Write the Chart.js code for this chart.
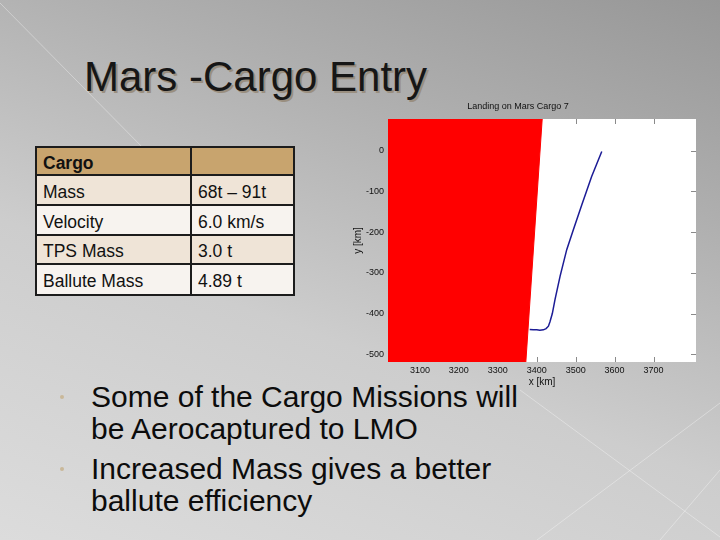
<!DOCTYPE html>
<html>
<head>
<meta charset="utf-8">
<script src="https://cdn.jsdelivr.net/npm/chart.js@4"></script>
<style>
  html, body { margin:0; padding:0; }
  body { width:720px; height:540px; overflow:hidden; position:relative;
    background: linear-gradient(200deg, #979797 0%, #afafaf 28%, #cdcdcd 60%, #dcdcdc 100%);
    font-family: "Liberation Sans", Arial, sans-serif; }
  #deco { position:absolute; left:0; top:0; }
  #title { position:absolute; left:84px; top:56px; font-size:42px; line-height:42px; color:#161616;
    text-shadow: 2px 2px 0 #9a8f80; white-space:nowrap; }
  #tbl { position:absolute; left:35px; top:146px; width:256px; border:2px solid #1c1c1c; }
  .row { position:relative; border-bottom:2px solid #1c1c1c; display:flex; }
  .row:last-child { border-bottom:none; }
  .c1 { width:155px; border-right:2px solid #1c1c1c; padding-left:6px; box-sizing:border-box; }
  .c2 { flex:1; padding-left:6px; }
  .row div { font-size:17.5px; color:#111; }
  #bul { position:absolute; left:91px; top:381px; width:460px; font-size:30px; line-height:31.5px; color:#0c0c0c; }
  #bul p { margin:0 0 9px 0; position:relative; }
  #bul p::before { content:""; position:absolute; left:-31px; top:14px; width:4px; height:4px; border-radius:50%; background:#c9b899; }
  #wrap { position:absolute; left:340px; top:95px; width:370px; height:300px; }
</style>
</head>
<body>
<svg id="deco" width="720" height="540">
  <g stroke="#ffffff" stroke-opacity="0.35" stroke-width="1" fill="none">
    <line x1="0" y1="3" x2="150" y2="155"/>
    <line x1="520" y1="390" x2="720" y2="537"/>
    <line x1="720" y1="403" x2="537" y2="540"/>
    <line x1="720" y1="470" x2="660" y2="540"/>
  </g>
</svg>
<div id="title">Mars -Cargo Entry</div>
<div id="tbl"></div>
<div id="bul"></div>
<div id="wrap"><canvas id="c" width="370" height="300"></canvas></div>
<script>
// ---- slide content ----
const tableRows = [["Cargo", ""], ["Mass", "68t \u2013 91t"], ["Velocity", "6.0 km/s"], ["TPS Mass", "3.0 t"], ["Ballute Mass", "4.89 t"]];
const bullets = ["Some of the Cargo Missions will be Aerocaptured to LMO", "Increased Mass gives a better ballute efficiency"];

// ---- chart data ----
const chartTitle = "Landing on Mars Cargo 7";
const xTicks = [3100, 3200, 3300, 3400, 3500, 3600, 3700];
const yTicks = [0, -100, -200, -300, -400, -500];
const xRange = [3018, 3809];
const yRange = [-519, 78];
// planet surface region (red)
const surfaceX = [3018, 3414, 3372, 3018];
const surfaceY = [78, 78, -519, -519];
// trajectory (blue)
const trajX = [3567, 3541, 3516, 3494, 3477, 3460, 3447, 3440, 3434, 3430, 3424, 3417, 3408, 3400, 3391, 3382];
const trajY = [-2, -63, -132, -194, -243, -308, -365, -400, -420, -431, -437, -440, -441, -440, -440, -439];

// build table
const rowHeights = [28, 30, 30, 29, 29];
const tbl = document.getElementById('tbl');
const rowBg = ["#c8a46e", "#efe4d7", "#f7f3ef", "#efe4d7", "#f7f3ef"];
tableRows.forEach((r, i) => {
  const row = document.createElement('div');
  row.className = 'row';
  row.style.background = rowBg[i];
  const h = rowHeights[i] - (i < tableRows.length - 1 ? 2 : 0);
  row.style.height = h + 'px';
  [r[0], r[1]].forEach((t, j) => {
    const c = document.createElement('div');
    c.className = j === 0 ? 'c1' : 'c2';
    c.textContent = t;
    c.style.paddingTop = '4px';
    c.style.lineHeight = (h - 4) + 'px';
    if (i === 0) c.style.fontWeight = 'bold';
    row.appendChild(c);
  });
  tbl.appendChild(row);
});
const bul = document.getElementById('bul');
bullets.forEach(b => { const p = document.createElement('p'); p.textContent = b; bul.appendChild(p); });

const toPts = (xs, ys) => xs.map((x, i) => ({x: x, y: ys[i]}));

const innerTicks = {
  id: 'innerTicks',
  beforeDatasetsDraw(chart) {
    const {ctx, chartArea: a, scales: {x, y}} = chart;
    ctx.save();
    ctx.strokeStyle = '#8a8a8a';
    ctx.lineWidth = 1;
    ctx.beginPath();
    xTicks.forEach(v => { const px = Math.round(x.getPixelForValue(v)) + 0.5;
      ctx.moveTo(px, a.top); ctx.lineTo(px, a.top + 5);
      ctx.moveTo(px, a.bottom); ctx.lineTo(px, a.bottom - 5); });
    yTicks.forEach(v => { const py = Math.round(y.getPixelForValue(v)) + 0.5;
      ctx.moveTo(a.right, py); ctx.lineTo(a.right - 5, py);
      ctx.moveTo(a.left, py); ctx.lineTo(a.left + 5, py); });
    ctx.stroke();
    ctx.restore();
  }
};
const plotBg = {
  id: 'plotBg',
  beforeDraw(chart) {
    const {ctx, chartArea: a} = chart;
    ctx.save(); ctx.fillStyle = '#ffffff';
    ctx.fillRect(a.left, a.top, a.right - a.left, a.bottom - a.top);
    ctx.restore();
  }
};

const tickFont = {family: "'Liberation Sans', Arial, sans-serif", size: 9};
const labelFont = {family: "'Liberation Sans', Arial, sans-serif", size: 10};
new Chart(document.getElementById('c'), {
  type: 'scatter',
  data: {
    datasets: [
      { data: toPts(surfaceX, surfaceY), showLine: true, fill: 'shape', backgroundColor: '#ff0000',
        borderColor: '#ff0000', borderWidth: 1, pointRadius: 0, tension: 0, order: 2 },
      { data: toPts(trajX, trajY), showLine: true, fill: false, borderColor: '#1c1c96',
        borderWidth: 1.5, pointRadius: 0, tension: 0, order: 1 }
    ]
  },
  options: {
    responsive: false, animation: false,
    layout: { padding: { left: 0, right: 14, top: 0, bottom: 0 } },
    plugins: {
      legend: { display: false }, tooltip: { enabled: false },
      title: { display: true, text: chartTitle, color: '#111', font: {family: tickFont.family, size: 9, weight: 'normal'},
        padding: { top: 6, bottom: 7.2 } }
    },
    scales: {
      x: { type: 'linear', min: xRange[0], max: xRange[1],
        afterBuildTicks: s => { s.ticks = xTicks.map(v => ({value: v})); },
        afterFit: s => { s.height = 33; },
        grid: { display: false, drawTicks: false }, border: { display: false },
        ticks: { color: '#111', font: tickFont, padding: 3, maxRotation: 0, callback: v => String(v) },
        title: { display: true, text: 'x [km]', color: '#111', font: labelFont, padding: { top: 0, bottom: 7 } } },
      y: { type: 'linear', min: yRange[0], max: yRange[1],
        afterBuildTicks: s => { s.ticks = yTicks.map(v => ({value: v})); },
        afterFit: s => { s.width = 48; },
        grid: { display: false, drawTicks: false }, border: { display: false },
        ticks: { color: '#111', font: tickFont, padding: 4, callback: v => String(v) },
        title: { display: true, text: 'y [km]', color: '#111', font: labelFont, padding: { top: 12, bottom: 0 } } }
    }
  },
  plugins: [plotBg, innerTicks]
});
</script>
</body>
</html>
